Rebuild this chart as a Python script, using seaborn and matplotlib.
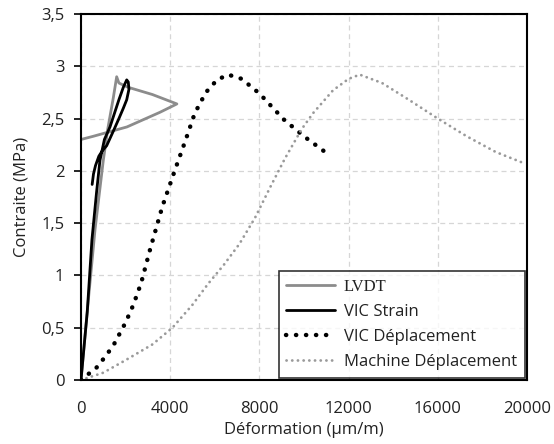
import matplotlib
matplotlib.use("Agg")
import matplotlib.pyplot as plt
import seaborn as sns
import pandas as pd

sns.set_theme(style="white")
plt.rcParams['font.family'] = ['Open Sans', 'DejaVu Sans']

# --- data (strain in µm/m, stress in MPa) ---
lvdt_x = [0, 300, 630, 1000, 1200, 1450, 1600, 1700, 2100, 3200, 4300, 3540, 2060, 540, 0]
lvdt_y = [0, 0.7, 1.44, 2.1, 2.4, 2.7, 2.9, 2.84, 2.8, 2.73, 2.64, 2.56, 2.42, 2.33, 2.3]

vic_strain_x = [0, 280, 490, 700, 850, 1050, 1300, 1500, 1700, 1900, 2050, 2120, 2150,
                2050, 1900, 1700, 1450, 1150, 950, 800, 650, 560, 500]
vic_strain_y = [0, 0.65, 1.34, 1.8, 2.1, 2.3, 2.42, 2.55, 2.68, 2.8, 2.87, 2.85, 2.78,
                2.68, 2.6, 2.5, 2.38, 2.24, 2.19, 2.14, 2.05, 1.97, 1.87]

vic_dep_x = [0, 700, 1150, 1500, 2000, 2350, 2700, 3100, 3650, 4200, 4700, 5100, 5600,
             6100, 6600, 7200, 8000, 9100, 10000, 11200]
vic_dep_y = [0, 0.12, 0.24, 0.35, 0.55, 0.72, 0.93, 1.25, 1.66, 2.0, 2.3, 2.55, 2.75,
             2.87, 2.92, 2.88, 2.74, 2.49, 2.33, 2.14]

machine_x = [0, 1000, 2000, 3200, 4100, 5000, 5700, 6400, 7100, 7800, 8500, 9150, 9900,
             10400, 11300, 12000, 12500, 13500, 14700, 16000, 17300, 18600, 19900]
machine_y = [0, 0.07, 0.19, 0.34, 0.5, 0.72, 0.92, 1.1, 1.3, 1.55, 1.85, 2.12, 2.4,
             2.55, 2.77, 2.88, 2.92, 2.84, 2.68, 2.5, 2.33, 2.18, 2.07]

x_ticks = [0, 4000, 8000, 12000, 16000, 20000]
y_ticks = [0, 0.5, 1, 1.5, 2, 2.5, 3, 3.5]
y_tick_labels = ["0", "0,5", "1", "1,5", "2", "2,5", "3", "3,5"]

fig = plt.figure(figsize=(5.54, 4.44), dpi=100)
ax = fig.add_axes([0.1462, 0.1441, 0.8051, 0.8244])

series = [
    ("LVDT", lvdt_x, lvdt_y, dict(color="#8c8c8c", lw=2.0, ls="-")),
    ("VIC Strain", vic_strain_x, vic_strain_y, dict(color="black", lw=2.0, ls="-")),
    ("VIC Déplacement", vic_dep_x, vic_dep_y,
     dict(color="black", lw=3.2, ls=(0, (0.05, 2.2)), dash_capstyle="round")),
    ("Machine Déplacement", machine_x, machine_y,
     dict(color="#9a9a9a", lw=2.0, ls=(0, (0.05, 2.0)), dash_capstyle="round")),
]

for name, xs, ys, style in series:
    df = pd.DataFrame({"x": xs, "y": ys})
    sns.lineplot(data=df, x="x", y="y", sort=False, estimator=None, ax=ax,
                 label=name, **style)

ax.set_xlim(0, 20000)
ax.set_ylim(0, 3.5)
ax.set_xticks(x_ticks)
ax.set_xticklabels([str(t) for t in x_ticks])
ax.set_yticks(y_ticks)
ax.set_yticklabels(y_tick_labels)
ax.tick_params(axis="both", labelsize=12, colors="#222222")
ax.tick_params(axis="y", left=True, length=5, width=1.2, color="black", pad=7)
ax.tick_params(axis="x", bottom=False, pad=9)

ax.grid(True, color="#d6d6d6", ls=(0, (4, 3)), lw=0.9)
for sp in ax.spines.values():
    sp.set_color("black")
    sp.set_linewidth(1.5)

ax.set_xlabel("Déformation (µm/m)", fontsize=12, color="#222222", labelpad=4)
ax.set_ylabel("Contraite (MPa)", fontsize=12, color="#222222", labelpad=8)

leg = ax.legend(loc="lower right", fontsize=12, frameon=True, fancybox=False,
                shadow=False, borderpad=0.45, handlelength=2.9, handletextpad=0.55,
                labelspacing=0.55, borderaxespad=0.15)
leg.get_frame().set_edgecolor("black")
leg.get_frame().set_linewidth(1.2)
texts = leg.get_texts()
texts[0].set_family(["Liberation Serif", "DejaVu Serif"])
for t in texts:
    t.set_color("#222222")

fig.savefig("out.png", dpi=100)
